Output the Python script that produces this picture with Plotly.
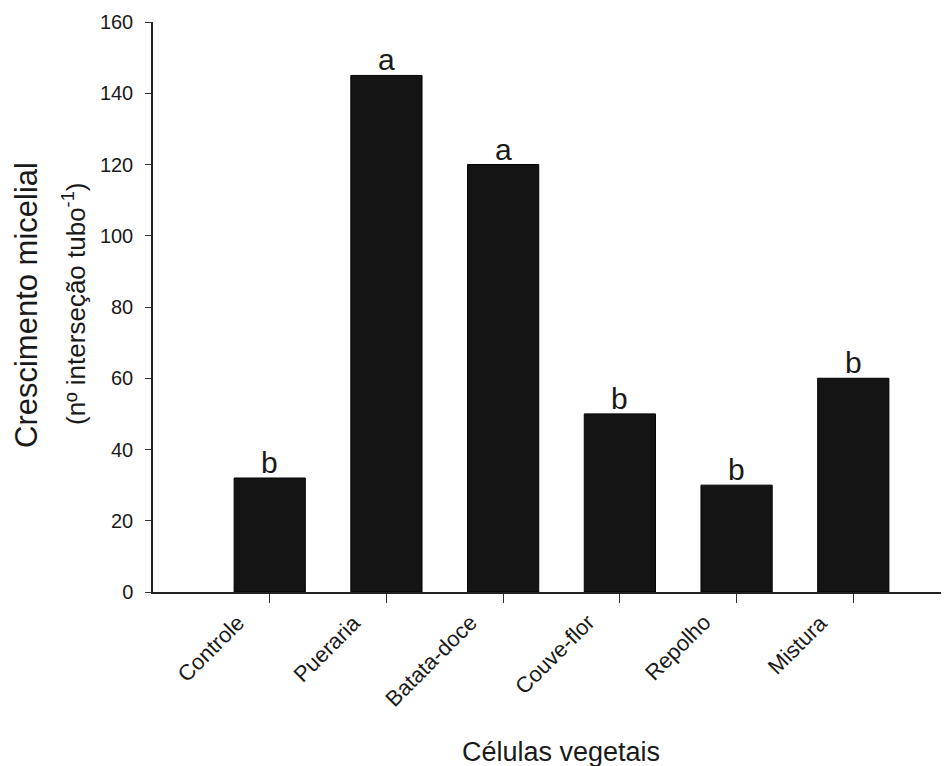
import plotly.graph_objects as go

categories = ["Controle", "Pueraria", "Batata-doce", "Couve-flor", "Repolho", "Mistura"]
values = [32, 145, 120, 50, 30, 60]
letters = ["b", "a", "a", "b", "b", "b"]
y_ticks = [0, 20, 40, 60, 80, 100, 120, 140, 160]

FONT = "Liberation Sans, Arial, sans-serif"
INK = "#1a1a1a"

xs = list(range(len(categories)))

fig = go.Figure()
fig.add_trace(go.Bar(
    x=xs,
    y=values,
    width=0.61,
    marker=dict(color="#141414", line=dict(color="#000000", width=1)),
))

# page body has an 8px margin: figure is sized so that it ends at the window edge
fig.update_layout(
    width=941, height=758,
    margin=dict(l=145, r=0, t=14, b=174),
    plot_bgcolor="white", paper_bgcolor="white",
    showlegend=False,
    xaxis=dict(
        range=[-1, 5.82],
        tickmode="array",
        tickvals=xs,
        showticklabels=False,
        ticks="outside", ticklen=9, tickcolor="#333333",
        showline=True, linecolor="#222222", linewidth=1.5,
        showgrid=False, zeroline=False, automargin=False,
    ),
    yaxis=dict(
        range=[0, 160],
        tickmode="array",
        tickvals=y_ticks,
        ticks="outside", ticklen=6, tickcolor="#333333",
        showline=True, linecolor="#222222", linewidth=1.5,
        showgrid=False, zeroline=False, automargin=False,
        ticklabelstandoff=8,
        tickfont=dict(family=FONT, size=20, color=INK),
    ),
)

annotations = []
# significance letters above bars
for xi, v, letter in zip(xs, values, letters):
    annotations.append(dict(
        text=letter, xref="x", yref="y", x=xi, y=v,
        xanchor="center", yanchor="bottom", yshift=-3,
        showarrow=False,
        font=dict(family=FONT, size=30, color=INK)))
# rotated category labels
for xi, name in zip(xs, categories):
    annotations.append(dict(
        text=name, xref="x", yref="paper", x=xi, y=0,
        xanchor="right", yanchor="top", xshift=-18, yshift=-15,
        textangle=-45, showarrow=False,
        font=dict(family=FONT, size=22, color=INK)))

annotations += [
    dict(text="Crescimento micelial", xref="paper", yref="paper",
         x=0, xshift=-127, y=0.5, yshift=2,
         xanchor="center", yanchor="middle",
         textangle=-90, showarrow=False,
         font=dict(family=FONT, size=31, color=INK)),
    dict(text="(nº interseção tubo<sup>-1</sup>)", xref="paper", yref="paper",
         x=0, xshift=-79, y=0.5, yshift=3,
         xanchor="center", yanchor="middle",
         textangle=-90, showarrow=False,
         font=dict(family=FONT, size=26, color=INK)),
    dict(text="Células vegetais", xref="paper", yref="paper",
         x=0, xshift=561 - 153, y=0, yshift=-160,
         xanchor="center", yanchor="middle",
         showarrow=False,
         font=dict(family=FONT, size=27, color=INK)),
]
fig.update_layout(annotations=annotations)

fig.write_html("out.html")
